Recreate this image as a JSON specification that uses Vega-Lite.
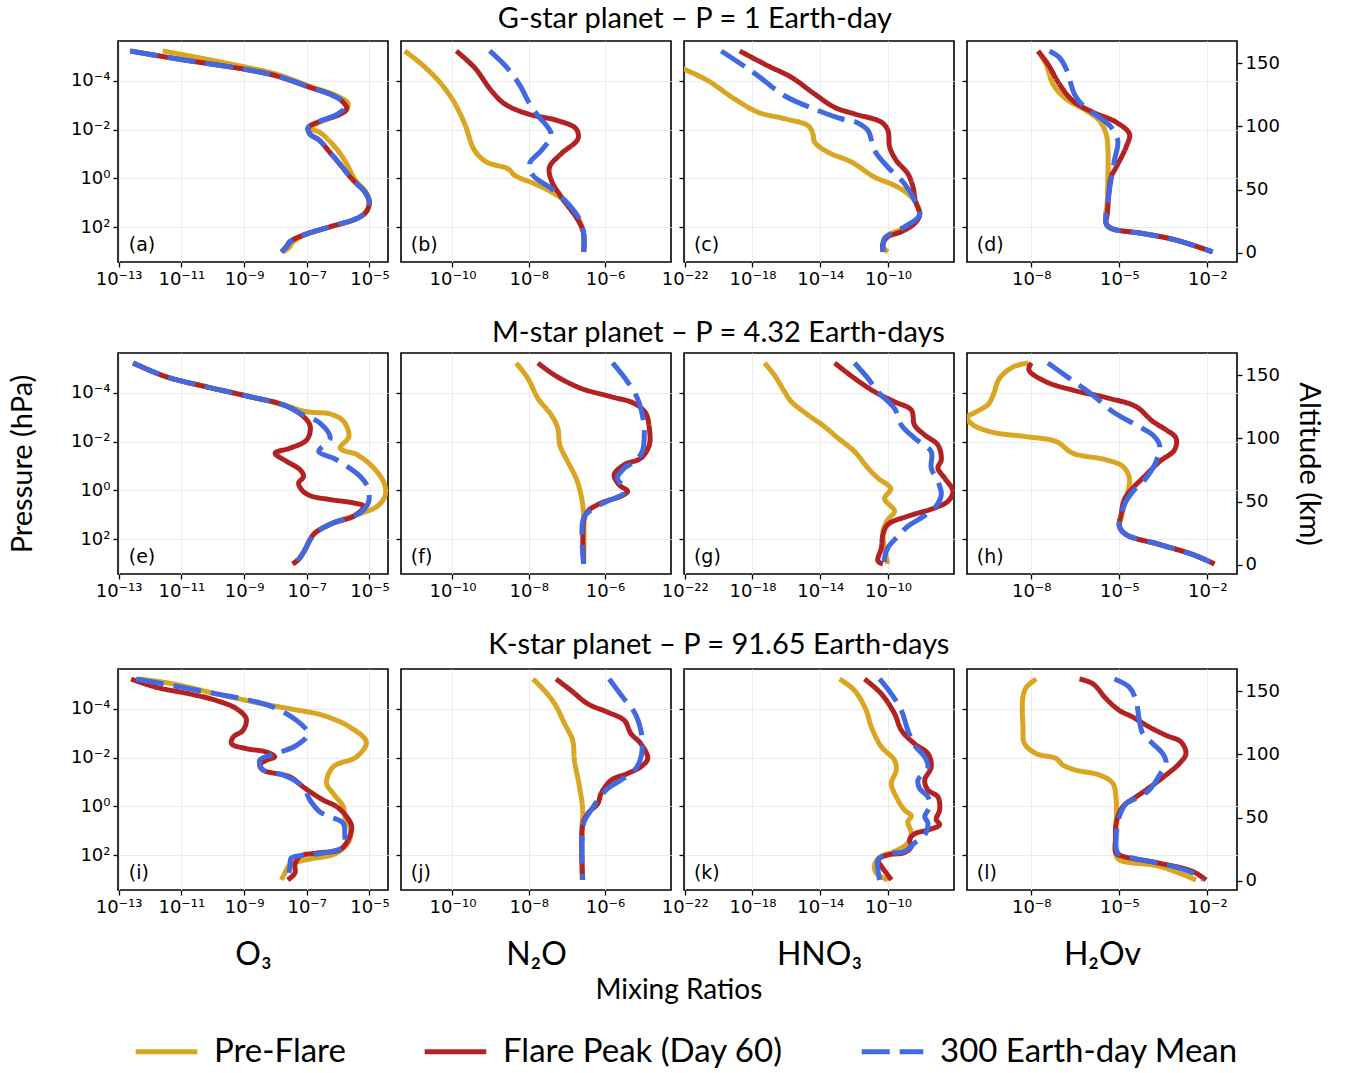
{
"$schema": "https://vega.github.io/schema/vega-lite/v6.json",
"background": "white",
"padding": {"left": 7, "top": 5, "right": 5, "bottom": 3},
"config": {
  "font": "Lato",
  "view": {"stroke": "#000", "strokeWidth": 1.6},
  "axis": {"labelFont": "DejaVu Sans", "labelFontSize": 18, "labelColor": "#000", "tickColor": "#000", "tickSize": 5, "tickWidth": 1.3, "domain": false, "grid": true, "gridColor": "#ebebeb", "gridWidth": 1, "titleFont": "Lato", "titleFontWeight": "normal", "titleColor": "#000", "titleFontSize": 29, "labelPadding": 3, "labelFlush": false, "labelOverlap": false, "labelBound": false},
  "title": {"font": "Lato", "fontSize": 29, "fontWeight": "normal", "color": "#000", "anchor": "middle"},
  "legend": {"orient": "none", "legendX": 15, "legendY": 977, "direction": "horizontal", "symbolType": "stroke", "symbolStrokeWidth": 5, "symbolSize": 3800, "labelFont": "Lato", "labelFontSize": 33, "labelColor": "#000", "labelOffset": 14, "columnPadding": 68, "padding": 0, "labelLimit": 0}
},
"spacing": 30,
"datasets": {
"a": [
{"s":"Pre-Flare","p":6e-6,"v":2.57e-12},{"s":"Pre-Flare","p":1.78e-5,"v":2.14e-10},{"s":"Pre-Flare","p":5.4e-5,"v":1.07e-8},{"s":"Pre-Flare","p":1.78e-4,"v":1.41e-7},{"s":"Pre-Flare","p":4.1e-4,"v":8.9e-7},{"s":"Pre-Flare","p":8.9e-4,"v":2.1e-6},{"s":"Pre-Flare","p":1.95e-3,"v":1.45e-6},{"s":"Pre-Flare","p":5.0e-3,"v":2.57e-7},{"s":"Pre-Flare","p":8.9e-3,"v":1.26e-7},{"s":"Pre-Flare","p":0.0129,"v":2.57e-7},{"s":"Pre-Flare","p":0.0617,"v":8.9e-7},{"s":"Pre-Flare","p":0.251,"v":1.86e-6},{"s":"Pre-Flare","p":1.2,"v":3.55e-6},{"s":"Pre-Flare","p":3.6,"v":7.6e-6},{"s":"Pre-Flare","p":9.3,"v":1.0e-5},{"s":"Pre-Flare","p":23.4,"v":7.9e-6},{"s":"Pre-Flare","p":44.7,"v":3.9e-6},{"s":"Pre-Flare","p":98,"v":5.4e-7},{"s":"Pre-Flare","p":214,"v":8.3e-8},{"s":"Pre-Flare","p":417,"v":3.55e-8},{"s":"Pre-Flare","p":661,"v":2.8e-8},{"s":"Pre-Flare","p":1040,"v":1.78e-8},
{"s":"Flare Peak (Day 60)","p":6e-6,"v":2.34e-13},{"s":"Flare Peak (Day 60)","p":1.32e-5,"v":8.9e-12},{"s":"Flare Peak (Day 60)","p":3.3e-5,"v":9.3e-10},{"s":"Flare Peak (Day 60)","p":6.3e-5,"v":1.07e-8},{"s":"Flare Peak (Day 60)","p":1.86e-4,"v":1.26e-7},{"s":"Flare Peak (Day 60)","p":3.5e-4,"v":5.4e-7},{"s":"Flare Peak (Day 60)","p":6.6e-4,"v":1.29e-6},{"s":"Flare Peak (Day 60)","p":1.41e-3,"v":1.9e-6},{"s":"Flare Peak (Day 60)","p":2.4e-3,"v":1.12e-6},{"s":"Flare Peak (Day 60)","p":4.6e-3,"v":2.57e-7},{"s":"Flare Peak (Day 60)","p":8.5e-3,"v":1.1e-7},{"s":"Flare Peak (Day 60)","p":0.0151,"v":1.26e-7},{"s":"Flare Peak (Day 60)","p":0.0282,"v":2.57e-7},{"s":"Flare Peak (Day 60)","p":0.085,"v":5.4e-7},{"s":"Flare Peak (Day 60)","p":0.214,"v":1.0e-6},{"s":"Flare Peak (Day 60)","p":1.2,"v":3.0e-6},{"s":"Flare Peak (Day 60)","p":3.6,"v":7.1e-6},{"s":"Flare Peak (Day 60)","p":9.3,"v":9.8e-6},{"s":"Flare Peak (Day 60)","p":23.4,"v":7.9e-6},{"s":"Flare Peak (Day 60)","p":44.7,"v":3.9e-6},{"s":"Flare Peak (Day 60)","p":98,"v":5.4e-7},{"s":"Flare Peak (Day 60)","p":214,"v":7.6e-8},{"s":"Flare Peak (Day 60)","p":398,"v":2.9e-8},{"s":"Flare Peak (Day 60)","p":631,"v":2.24e-8},{"s":"Flare Peak (Day 60)","p":1040,"v":1.55e-8},
{"s":"300 Earth-day Mean","p":6e-6,"v":2.34e-13},{"s":"300 Earth-day Mean","p":1.32e-5,"v":8.9e-12},{"s":"300 Earth-day Mean","p":3.3e-5,"v":9.3e-10},{"s":"300 Earth-day Mean","p":6.3e-5,"v":1.07e-8},{"s":"300 Earth-day Mean","p":1.86e-4,"v":1.26e-7},{"s":"300 Earth-day Mean","p":3.5e-4,"v":5.4e-7},{"s":"300 Earth-day Mean","p":6.6e-4,"v":1.29e-6},{"s":"300 Earth-day Mean","p":1.23e-3,"v":1.62e-6},{"s":"300 Earth-day Mean","p":2.45e-3,"v":8.9e-7},{"s":"300 Earth-day Mean","p":4.6e-3,"v":2.57e-7},{"s":"300 Earth-day Mean","p":8.5e-3,"v":1.1e-7},{"s":"300 Earth-day Mean","p":0.0151,"v":1.26e-7},{"s":"300 Earth-day Mean","p":0.0282,"v":2.57e-7},{"s":"300 Earth-day Mean","p":0.085,"v":5.4e-7},{"s":"300 Earth-day Mean","p":0.214,"v":1.0e-6},{"s":"300 Earth-day Mean","p":1.2,"v":3.0e-6},{"s":"300 Earth-day Mean","p":3.6,"v":7.1e-6},{"s":"300 Earth-day Mean","p":9.3,"v":9.8e-6},{"s":"300 Earth-day Mean","p":23.4,"v":7.9e-6},{"s":"300 Earth-day Mean","p":44.7,"v":3.9e-6},{"s":"300 Earth-day Mean","p":98,"v":5.4e-7},{"s":"300 Earth-day Mean","p":214,"v":7.6e-8},{"s":"300 Earth-day Mean","p":398,"v":2.9e-8},{"s":"300 Earth-day Mean","p":631,"v":2.24e-8},{"s":"300 Earth-day Mean","p":1040,"v":1.55e-8}
],
"b": [
{"s":"Pre-Flare","p":6e-6,"v":5.6e-12},{"s":"Pre-Flare","p":2.1e-5,"v":1.55e-11},{"s":"Pre-Flare","p":1e-4,"v":4.3e-11},{"s":"Pre-Flare","p":6.6e-4,"v":1.05e-10},{"s":"Pre-Flare","p":5.9e-3,"v":2.1e-10},{"s":"Pre-Flare","p":0.072,"v":3.8e-10},{"s":"Pre-Flare","p":0.214,"v":7.8e-10},{"s":"Pre-Flare","p":0.41,"v":2.9e-9},{"s":"Pre-Flare","p":0.76,"v":4.3e-9},{"s":"Pre-Flare","p":1.66,"v":1.41e-8},{"s":"Pre-Flare","p":3.6,"v":3.9e-8},{"s":"Pre-Flare","p":10.7,"v":1.05e-7},{"s":"Pre-Flare","p":51,"v":2.1e-7},{"s":"Pre-Flare","p":182,"v":2.75e-7},{"s":"Pre-Flare","p":1040,"v":2.75e-7},
{"s":"Flare Peak (Day 60)","p":6e-6,"v":1.26e-10},{"s":"Flare Peak (Day 60)","p":2.9e-5,"v":3.8e-10},{"s":"Flare Peak (Day 60)","p":2.57e-4,"v":1.05e-9},{"s":"Flare Peak (Day 60)","p":8.9e-4,"v":2.34e-9},{"s":"Flare Peak (Day 60)","p":2.29e-3,"v":9.5e-9},{"s":"Flare Peak (Day 60)","p":4.3e-3,"v":5.8e-8},{"s":"Flare Peak (Day 60)","p":9.3e-3,"v":1.74e-7},{"s":"Flare Peak (Day 60)","p":0.024,"v":1.95e-7},{"s":"Flare Peak (Day 60)","p":0.098,"v":7.1e-8},{"s":"Flare Peak (Day 60)","p":0.35,"v":3.5e-8},{"s":"Flare Peak (Day 60)","p":1.2,"v":3.9e-8},{"s":"Flare Peak (Day 60)","p":5.75,"v":7.1e-8},{"s":"Flare Peak (Day 60)","p":51,"v":1.95e-7},{"s":"Flare Peak (Day 60)","p":182,"v":2.75e-7},{"s":"Flare Peak (Day 60)","p":1040,"v":2.75e-7},
{"s":"300 Earth-day Mean","p":6e-6,"v":9.5e-10},{"s":"300 Earth-day Mean","p":3.3e-5,"v":2.9e-9},{"s":"300 Earth-day Mean","p":1.86e-4,"v":6.3e-9},{"s":"300 Earth-day Mean","p":6.6e-4,"v":9.5e-9},{"s":"300 Earth-day Mean","p":2.7e-3,"v":1.74e-8},{"s":"300 Earth-day Mean","p":7.9e-3,"v":3.16e-8},{"s":"300 Earth-day Mean","p":0.0174,"v":3.9e-8},{"s":"300 Earth-day Mean","p":0.072,"v":2.14e-8},{"s":"300 Earth-day Mean","p":0.251,"v":1.05e-8},{"s":"300 Earth-day Mean","p":0.76,"v":1.29e-8},{"s":"300 Earth-day Mean","p":2.63,"v":3.9e-8},{"s":"300 Earth-day Mean","p":10.7,"v":1.05e-7},{"s":"300 Earth-day Mean","p":44.7,"v":2.1e-7},{"s":"300 Earth-day Mean","p":182,"v":2.75e-7},{"s":"300 Earth-day Mean","p":1040,"v":2.75e-7}
],
"c": [
{"s":"Pre-Flare","p":6e-6,"v":4.6e-25},{"s":"Pre-Flare","p":3.3e-5,"v":9.1e-23},{"s":"Pre-Flare","p":1e-4,"v":2.4e-21},{"s":"Pre-Flare","p":5.6e-4,"v":8.9e-20},{"s":"Pre-Flare","p":1.95e-3,"v":2.14e-18},{"s":"Pre-Flare","p":3.6e-3,"v":7.9e-17},{"s":"Pre-Flare","p":6.9e-3,"v":1.9e-15},{"s":"Pre-Flare","p":0.0151,"v":3.7e-15},{"s":"Pre-Flare","p":0.033,"v":4.7e-15},{"s":"Pre-Flare","p":0.085,"v":2.9e-14},{"s":"Pre-Flare","p":0.214,"v":6.9e-13},{"s":"Pre-Flare","p":0.89,"v":1.62e-11},{"s":"Pre-Flare","p":1.95,"v":2.45e-10},{"s":"Pre-Flare","p":4.3,"v":1.5e-9},{"s":"Pre-Flare","p":10.7,"v":4.7e-9},{"s":"Pre-Flare","p":32,"v":7.4e-9},{"s":"Pre-Flare","p":98,"v":1.5e-9},{"s":"Pre-Flare","p":182,"v":1.58e-10},{"s":"Pre-Flare","p":288,"v":6.3e-11},{"s":"Pre-Flare","p":631,"v":5.1e-11},{"s":"Pre-Flare","p":1040,"v":1e-10},
{"s":"Flare Peak (Day 60)","p":6e-6,"v":1.78e-19},{"s":"Flare Peak (Day 60)","p":2.45e-5,"v":8.3e-18},{"s":"Flare Peak (Day 60)","p":7.2e-5,"v":2.0e-16},{"s":"Flare Peak (Day 60)","p":3.5e-4,"v":4.7e-15},{"s":"Flare Peak (Day 60)","p":1.23e-3,"v":7.1e-14},{"s":"Flare Peak (Day 60)","p":2.29e-3,"v":1.07e-12},{"s":"Flare Peak (Day 60)","p":5.0e-3,"v":4.1e-11},{"s":"Flare Peak (Day 60)","p":0.011,"v":1e-10},{"s":"Flare Peak (Day 60)","p":0.052,"v":1.26e-10},{"s":"Flare Peak (Day 60)","p":0.186,"v":3.1e-10},{"s":"Flare Peak (Day 60)","p":0.65,"v":1.5e-9},{"s":"Flare Peak (Day 60)","p":2.24,"v":3.0e-9},{"s":"Flare Peak (Day 60)","p":7.9,"v":4.1e-9},{"s":"Flare Peak (Day 60)","p":32,"v":7.4e-9},{"s":"Flare Peak (Day 60)","p":71,"v":3.7e-9},{"s":"Flare Peak (Day 60)","p":155,"v":6.2e-10},{"s":"Flare Peak (Day 60)","p":245,"v":1e-10},{"s":"Flare Peak (Day 60)","p":468,"v":5.1e-11},{"s":"Flare Peak (Day 60)","p":1040,"v":5.1e-11},
{"s":"300 Earth-day Mean","p":6e-6,"v":1.45e-20},{"s":"300 Earth-day Mean","p":2.1e-5,"v":2.2e-19},{"s":"300 Earth-day Mean","p":6.3e-5,"v":2.14e-18},{"s":"300 Earth-day Mean","p":4.1e-4,"v":7.9e-17},{"s":"300 Earth-day Mean","p":1.66e-3,"v":7.4e-15},{"s":"300 Earth-day Mean","p":3.6e-3,"v":1.78e-13},{"s":"300 Earth-day Mean","p":5.0e-3,"v":1.35e-12},{"s":"300 Earth-day Mean","p":0.011,"v":6.6e-12},{"s":"300 Earth-day Mean","p":0.072,"v":1.62e-11},{"s":"300 Earth-day Mean","p":0.35,"v":1e-10},{"s":"300 Earth-day Mean","p":1.66,"v":9.5e-10},{"s":"300 Earth-day Mean","p":7.9,"v":3.7e-9},{"s":"300 Earth-day Mean","p":32,"v":7.4e-9},{"s":"300 Earth-day Mean","p":98,"v":9.5e-10},{"s":"300 Earth-day Mean","p":182,"v":1.58e-10},{"s":"300 Earth-day Mean","p":288,"v":6.3e-11},{"s":"300 Earth-day Mean","p":870,"v":5.1e-11},{"s":"300 Earth-day Mean","p":1040,"v":5.1e-11}
],
"d": [
{"s":"Pre-Flare","p":6e-6,"v":1.7e-8},{"s":"Pre-Flare","p":2.1e-5,"v":3.2e-8},{"s":"Pre-Flare","p":1.38e-4,"v":5.5e-8},{"s":"Pre-Flare","p":5.6e-4,"v":1.55e-7},{"s":"Pre-Flare","p":1.66e-3,"v":7.4e-7},{"s":"Pre-Flare","p":4.3e-3,"v":2.1e-6},{"s":"Pre-Flare","p":0.0151,"v":3.55e-6},{"s":"Pre-Flare","p":0.072,"v":4.1e-6},{"s":"Pre-Flare","p":0.65,"v":4.1e-6},{"s":"Pre-Flare","p":7.9,"v":3.9e-6},{"s":"Pre-Flare","p":71,"v":3.55e-6},{"s":"Pre-Flare","p":112,"v":5.2e-6},{"s":"Pre-Flare","p":182,"v":6.3e-5},{"s":"Pre-Flare","p":339,"v":8.5e-4},{"s":"Pre-Flare","p":1040,"v":0.0151},
{"s":"Flare Peak (Day 60)","p":6e-6,"v":1.7e-8},{"s":"Flare Peak (Day 60)","p":2.1e-5,"v":3.7e-8},{"s":"Flare Peak (Day 60)","p":1.38e-4,"v":9.1e-8},{"s":"Flare Peak (Day 60)","p":6.6e-4,"v":2.6e-7},{"s":"Flare Peak (Day 60)","p":1.95e-3,"v":1.26e-6},{"s":"Flare Peak (Day 60)","p":5.0e-3,"v":7.8e-6},{"s":"Flare Peak (Day 60)","p":0.0151,"v":2.2e-5},{"s":"Flare Peak (Day 60)","p":0.052,"v":1.7e-5},{"s":"Flare Peak (Day 60)","p":0.35,"v":7.8e-6},{"s":"Flare Peak (Day 60)","p":0.89,"v":5.2e-6},{"s":"Flare Peak (Day 60)","p":4.3,"v":4.4e-6},{"s":"Flare Peak (Day 60)","p":27.5,"v":3.9e-6},{"s":"Flare Peak (Day 60)","p":71,"v":3.55e-6},{"s":"Flare Peak (Day 60)","p":112,"v":5.2e-6},{"s":"Flare Peak (Day 60)","p":182,"v":6.3e-5},{"s":"Flare Peak (Day 60)","p":339,"v":8.5e-4},{"s":"Flare Peak (Day 60)","p":1040,"v":0.0151},
{"s":"300 Earth-day Mean","p":6e-6,"v":4.2e-8},{"s":"300 Earth-day Mean","p":1.12e-5,"v":9.1e-8},{"s":"300 Earth-day Mean","p":3.3e-5,"v":1.55e-7},{"s":"300 Earth-day Mean","p":3.5e-4,"v":2.95e-7},{"s":"300 Earth-day Mean","p":1.05e-3,"v":5.8e-7},{"s":"300 Earth-day Mean","p":3.16e-3,"v":2.1e-6},{"s":"300 Earth-day Mean","p":7.9e-3,"v":5.2e-6},{"s":"300 Earth-day Mean","p":0.0282,"v":8.9e-6},{"s":"300 Earth-day Mean","p":0.186,"v":6.8e-6},{"s":"300 Earth-day Mean","p":1.2,"v":5.2e-6},{"s":"300 Earth-day Mean","p":7.9,"v":4.1e-6},{"s":"300 Earth-day Mean","p":71,"v":3.55e-6},{"s":"300 Earth-day Mean","p":112,"v":5.2e-6},{"s":"300 Earth-day Mean","p":182,"v":6.3e-5},{"s":"300 Earth-day Mean","p":339,"v":8.5e-4},{"s":"300 Earth-day Mean","p":1040,"v":0.0151}
],
"e": [
{"s":"Pre-Flare","p":6e-6,"v":2.9e-13},{"s":"Pre-Flare","p":2.24e-5,"v":3.4e-12},{"s":"Pre-Flare","p":5.75e-5,"v":6.5e-11},{"s":"Pre-Flare","p":1.45e-4,"v":1.55e-9},{"s":"Pre-Flare","p":3.16e-4,"v":1.82e-8},{"s":"Pre-Flare","p":6.0e-4,"v":1.02e-7},{"s":"Pre-Flare","p":7.4e-4,"v":5.6e-7},{"s":"Pre-Flare","p":1.5e-3,"v":1.5e-6},{"s":"Pre-Flare","p":6.3e-3,"v":2.2e-6},{"s":"Pre-Flare","p":0.0186,"v":1.17e-6},{"s":"Pre-Flare","p":0.035,"v":4.1e-6},{"s":"Pre-Flare","p":0.123,"v":1.38e-5},{"s":"Pre-Flare","p":0.5,"v":2.9e-5},{"s":"Pre-Flare","p":1.5,"v":3.2e-5},{"s":"Pre-Flare","p":4.5,"v":1.78e-5},{"s":"Pre-Flare","p":9.8,"v":4.1e-6},{"s":"Pre-Flare","p":21.4,"v":7.2e-7},{"s":"Pre-Flare","p":55,"v":1.86e-7},{"s":"Pre-Flare","p":102,"v":1.29e-7},{"s":"Pre-Flare","p":263,"v":8.9e-8},{"s":"Pre-Flare","p":676,"v":5.5e-8},{"s":"Pre-Flare","p":1040,"v":3.8e-8},
{"s":"Flare Peak (Day 60)","p":6e-6,"v":2.9e-13},{"s":"Flare Peak (Day 60)","p":2.24e-5,"v":3.4e-12},{"s":"Flare Peak (Day 60)","p":5.75e-5,"v":6.5e-11},{"s":"Flare Peak (Day 60)","p":1.45e-4,"v":1.55e-9},{"s":"Flare Peak (Day 60)","p":3.16e-4,"v":1.82e-8},{"s":"Flare Peak (Day 60)","p":9.5e-4,"v":7.9e-8},{"s":"Flare Peak (Day 60)","p":2.45e-3,"v":1.29e-7},{"s":"Flare Peak (Day 60)","p":8.5e-3,"v":1.0e-7},{"s":"Flare Peak (Day 60)","p":0.0186,"v":2.95e-8},{"s":"Flare Peak (Day 60)","p":0.03,"v":9.8e-9},{"s":"Flare Peak (Day 60)","p":0.066,"v":2.34e-8},{"s":"Flare Peak (Day 60)","p":0.145,"v":6.2e-8},{"s":"Flare Peak (Day 60)","p":0.27,"v":7.9e-8},{"s":"Flare Peak (Day 60)","p":0.5,"v":5.5e-8},{"s":"Flare Peak (Day 60)","p":1.0,"v":7.1e-8},{"s":"Flare Peak (Day 60)","p":1.66,"v":1.29e-7},{"s":"Flare Peak (Day 60)","p":2.4,"v":5.6e-7},{"s":"Flare Peak (Day 60)","p":3.3,"v":3.16e-6},{"s":"Flare Peak (Day 60)","p":4.5,"v":6.6e-6},{"s":"Flare Peak (Day 60)","p":11.5,"v":3.16e-6},{"s":"Flare Peak (Day 60)","p":21.4,"v":7.2e-7},{"s":"Flare Peak (Day 60)","p":55,"v":1.86e-7},{"s":"Flare Peak (Day 60)","p":102,"v":1.29e-7},{"s":"Flare Peak (Day 60)","p":263,"v":8.9e-8},{"s":"Flare Peak (Day 60)","p":676,"v":5.5e-8},{"s":"Flare Peak (Day 60)","p":1040,"v":3.5e-8},
{"s":"300 Earth-day Mean","p":6e-6,"v":2.9e-13},{"s":"300 Earth-day Mean","p":2.24e-5,"v":3.4e-12},{"s":"300 Earth-day Mean","p":5.75e-5,"v":6.5e-11},{"s":"300 Earth-day Mean","p":1.45e-4,"v":1.55e-9},{"s":"300 Earth-day Mean","p":3.16e-4,"v":1.82e-8},{"s":"300 Earth-day Mean","p":8.1e-4,"v":7.9e-8},{"s":"300 Earth-day Mean","p":1.78e-3,"v":2.7e-7},{"s":"300 Earth-day Mean","p":7.2e-3,"v":5.6e-7},{"s":"300 Earth-day Mean","p":0.0257,"v":2.4e-7},{"s":"300 Earth-day Mean","p":0.048,"v":7.2e-7},{"s":"300 Earth-day Mean","p":0.105,"v":1.95e-6},{"s":"300 Earth-day Mean","p":0.27,"v":5.1e-6},{"s":"300 Earth-day Mean","p":0.69,"v":8.5e-6},{"s":"300 Earth-day Mean","p":2.8,"v":9.5e-6},{"s":"300 Earth-day Mean","p":6.2,"v":6.6e-6},{"s":"300 Earth-day Mean","p":11.5,"v":3.16e-6},{"s":"300 Earth-day Mean","p":21.4,"v":7.2e-7},{"s":"300 Earth-day Mean","p":55,"v":1.86e-7},{"s":"300 Earth-day Mean","p":102,"v":1.29e-7},{"s":"300 Earth-day Mean","p":263,"v":8.9e-8},{"s":"300 Earth-day Mean","p":676,"v":5.5e-8},{"s":"300 Earth-day Mean","p":1040,"v":3.8e-8}
],
"f": [
{"s":"Pre-Flare","p":6e-6,"v":4.7e-9},{"s":"Pre-Flare","p":2.57e-5,"v":9.5e-9},{"s":"Pre-Flare","p":1.7e-4,"v":1.74e-8},{"s":"Pre-Flare","p":8.1e-4,"v":3.9e-8},{"s":"Pre-Flare","p":2.9e-3,"v":5.8e-8},{"s":"Pre-Flare","p":0.0138,"v":6.5e-8},{"s":"Pre-Flare","p":0.066,"v":1.05e-7},{"s":"Pre-Flare","p":0.316,"v":1.74e-7},{"s":"Pre-Flare","p":1.5,"v":2.34e-7},{"s":"Pre-Flare","p":9.8,"v":2.75e-7},{"s":"Pre-Flare","p":1040,"v":2.75e-7},
{"s":"Flare Peak (Day 60)","p":6e-6,"v":1.74e-8},{"s":"Flare Peak (Day 60)","p":1.9e-5,"v":4.8e-8},{"s":"Flare Peak (Day 60)","p":6.6e-5,"v":2.34e-7},{"s":"Flare Peak (Day 60)","p":1.45e-4,"v":1.45e-6},{"s":"Flare Peak (Day 60)","p":2.75e-4,"v":5.9e-6},{"s":"Flare Peak (Day 60)","p":6.9e-4,"v":1.17e-5},{"s":"Flare Peak (Day 60)","p":2.9e-3,"v":1.45e-5},{"s":"Flare Peak (Day 60)","p":0.0138,"v":1.45e-5},{"s":"Flare Peak (Day 60)","p":0.048,"v":8.7e-6},{"s":"Flare Peak (Day 60)","p":0.089,"v":3.2e-6},{"s":"Flare Peak (Day 60)","p":0.23,"v":1.74e-6},{"s":"Flare Peak (Day 60)","p":0.59,"v":2.34e-6},{"s":"Flare Peak (Day 60)","p":1.1,"v":3.9e-6},{"s":"Flare Peak (Day 60)","p":1.74,"v":2.6e-6},{"s":"Flare Peak (Day 60)","p":3.3,"v":7.9e-7},{"s":"Flare Peak (Day 60)","p":7.2,"v":3.55e-7},{"s":"Flare Peak (Day 60)","p":18.6,"v":2.75e-7},{"s":"Flare Peak (Day 60)","p":1040,"v":2.75e-7},
{"s":"300 Earth-day Mean","p":6e-6,"v":1.58e-6},{"s":"300 Earth-day Mean","p":3.55e-5,"v":3.9e-6},{"s":"300 Earth-day Mean","p":1.7e-4,"v":7.1e-6},{"s":"300 Earth-day Mean","p":8.1e-4,"v":9.5e-6},{"s":"300 Earth-day Mean","p":3.9e-3,"v":1.07e-5},{"s":"300 Earth-day Mean","p":0.0257,"v":9.5e-6},{"s":"300 Earth-day Mean","p":0.066,"v":5.9e-6},{"s":"300 Earth-day Mean","p":0.123,"v":3.2e-6},{"s":"300 Earth-day Mean","p":0.316,"v":2.1e-6},{"s":"300 Earth-day Mean","p":0.79,"v":3.2e-6},{"s":"300 Earth-day Mean","p":1.29,"v":3.2e-6},{"s":"300 Earth-day Mean","p":2.4,"v":1.45e-6},{"s":"300 Earth-day Mean","p":5.25,"v":5.2e-7},{"s":"300 Earth-day Mean","p":13.5,"v":2.75e-7},{"s":"300 Earth-day Mean","p":1040,"v":2.75e-7}
],
"g": [
{"s":"Pre-Flare","p":6e-6,"v":5.2e-18},{"s":"Pre-Flare","p":1.9e-5,"v":2.0e-17},{"s":"Pre-Flare","p":9.1e-5,"v":7.9e-17},{"s":"Pre-Flare","p":2.34e-4,"v":2.0e-16},{"s":"Pre-Flare","p":8.1e-4,"v":1.9e-15},{"s":"Pre-Flare","p":2.45e-3,"v":1.82e-14},{"s":"Pre-Flare","p":7.2e-3,"v":1.12e-13},{"s":"Pre-Flare","p":0.0257,"v":1.07e-12},{"s":"Pre-Flare","p":0.123,"v":6.6e-12},{"s":"Pre-Flare","p":0.316,"v":2.57e-11},{"s":"Pre-Flare","p":0.85,"v":1.45e-10},{"s":"Pre-Flare","p":2.19,"v":6.3e-11},{"s":"Pre-Flare","p":7.2,"v":2.45e-10},{"s":"Pre-Flare","p":15.8,"v":1e-10},{"s":"Pre-Flare","p":47,"v":5.1e-11},{"s":"Pre-Flare","p":224,"v":6.3e-11},{"s":"Pre-Flare","p":1040,"v":1e-10},
{"s":"Flare Peak (Day 60)","p":6e-6,"v":7.1e-14},{"s":"Flare Peak (Day 60)","p":2.57e-5,"v":1.07e-12},{"s":"Flare Peak (Day 60)","p":9.1e-5,"v":1.62e-11},{"s":"Flare Peak (Day 60)","p":2.34e-4,"v":2.45e-10},{"s":"Flare Peak (Day 60)","p":5.1e-4,"v":2.4e-9},{"s":"Flare Peak (Day 60)","p":2.1e-3,"v":3.7e-9},{"s":"Flare Peak (Day 60)","p":5.4e-3,"v":1.48e-8},{"s":"Flare Peak (Day 60)","p":0.0138,"v":8.9e-8},{"s":"Flare Peak (Day 60)","p":0.056,"v":1.41e-7},{"s":"Flare Peak (Day 60)","p":0.123,"v":8.9e-8},{"s":"Flare Peak (Day 60)","p":0.316,"v":2.24e-7},{"s":"Flare Peak (Day 60)","p":1.1,"v":6.9e-7},{"s":"Flare Peak (Day 60)","p":2.8,"v":3.5e-7},{"s":"Flare Peak (Day 60)","p":5.25,"v":5.8e-8},{"s":"Flare Peak (Day 60)","p":11.5,"v":1.5e-9},{"s":"Flare Peak (Day 60)","p":25,"v":1e-10},{"s":"Flare Peak (Day 60)","p":65,"v":5.1e-11},{"s":"Flare Peak (Day 60)","p":224,"v":4.1e-11},{"s":"Flare Peak (Day 60)","p":794,"v":2.57e-11},{"s":"Flare Peak (Day 60)","p":1040,"v":5.1e-11},
{"s":"300 Earth-day Mean","p":6e-6,"v":1.07e-12},{"s":"300 Earth-day Mean","p":2.57e-5,"v":6.6e-12},{"s":"300 Earth-day Mean","p":9.1e-5,"v":2.57e-11},{"s":"300 Earth-day Mean","p":4.4e-4,"v":2.45e-10},{"s":"300 Earth-day Mean","p":2.1e-3,"v":6.2e-10},{"s":"300 Earth-day Mean","p":7.2e-3,"v":3.7e-9},{"s":"300 Earth-day Mean","p":0.0257,"v":3.6e-8},{"s":"300 Earth-day Mean","p":0.123,"v":3.6e-8},{"s":"300 Earth-day Mean","p":0.43,"v":8.9e-8},{"s":"300 Earth-day Mean","p":1.5,"v":1.41e-7},{"s":"300 Earth-day Mean","p":5.25,"v":5.8e-8},{"s":"300 Earth-day Mean","p":13.5,"v":9.3e-9},{"s":"300 Earth-day Mean","p":29.5,"v":1.5e-9},{"s":"300 Earth-day Mean","p":76,"v":3.9e-10},{"s":"300 Earth-day Mean","p":224,"v":1e-10},{"s":"300 Earth-day Mean","p":575,"v":6.3e-11},{"s":"300 Earth-day Mean","p":1040,"v":6.3e-11}
],
"h": [
{"s":"Pre-Flare","p":6e-6,"v":7.8e-9},{"s":"Pre-Flare","p":8.7e-6,"v":2.4e-9},{"s":"Pre-Flare","p":2.57e-5,"v":8.3e-10},{"s":"Pre-Flare","p":1.26e-4,"v":5.0e-10},{"s":"Pre-Flare","p":3.0e-4,"v":3.4e-10},{"s":"Pre-Flare","p":6.0e-4,"v":1.35e-10},{"s":"Pre-Flare","p":1.05e-3,"v":6.5e-11},{"s":"Pre-Flare","p":2.1e-3,"v":1.05e-10},{"s":"Pre-Flare","p":4.2e-3,"v":5.0e-10},{"s":"Pre-Flare","p":6.3e-3,"v":6.8e-9},{"s":"Pre-Flare","p":0.01,"v":7.1e-8},{"s":"Pre-Flare","p":0.03,"v":2.6e-7},{"s":"Pre-Flare","p":0.056,"v":3.55e-6},{"s":"Pre-Flare","p":0.105,"v":1.32e-5},{"s":"Pre-Flare","p":0.316,"v":2.2e-5},{"s":"Pre-Flare","p":1.1,"v":1.95e-5},{"s":"Pre-Flare","p":3.9,"v":1.48e-5},{"s":"Pre-Flare","p":13.5,"v":1.15e-5},{"s":"Pre-Flare","p":29.5,"v":1e-5},{"s":"Pre-Flare","p":65,"v":1.7e-5},{"s":"Pre-Flare","p":166,"v":2.34e-4},{"s":"Pre-Flare","p":427,"v":3.16e-3},{"s":"Pre-Flare","p":1040,"v":0.0174},
{"s":"Flare Peak (Day 60)","p":6e-6,"v":1e-8},{"s":"Flare Peak (Day 60)","p":1.17e-5,"v":8.3e-9},{"s":"Flare Peak (Day 60)","p":3.55e-5,"v":3.2e-8},{"s":"Flare Peak (Day 60)","p":7.8e-5,"v":2.6e-7},{"s":"Flare Peak (Day 60)","p":1.7e-4,"v":4.6e-6},{"s":"Flare Peak (Day 60)","p":3.7e-4,"v":3.7e-5},{"s":"Flare Peak (Day 60)","p":1.5e-3,"v":1.38e-4},{"s":"Flare Peak (Day 60)","p":3.3e-3,"v":3.9e-4},{"s":"Flare Peak (Day 60)","p":7.2e-3,"v":8.5e-4},{"s":"Flare Peak (Day 60)","p":0.022,"v":7.6e-4},{"s":"Flare Peak (Day 60)","p":0.066,"v":2.34e-4},{"s":"Flare Peak (Day 60)","p":0.316,"v":6.3e-5},{"s":"Flare Peak (Day 60)","p":0.79,"v":2.9e-5},{"s":"Flare Peak (Day 60)","p":2.4,"v":1.48e-5},{"s":"Flare Peak (Day 60)","p":9.8,"v":1.15e-5},{"s":"Flare Peak (Day 60)","p":29.5,"v":1e-5},{"s":"Flare Peak (Day 60)","p":65,"v":1.7e-5},{"s":"Flare Peak (Day 60)","p":166,"v":2.34e-4},{"s":"Flare Peak (Day 60)","p":427,"v":3.16e-3},{"s":"Flare Peak (Day 60)","p":1040,"v":0.0174},
{"s":"300 Earth-day Mean","p":6e-6,"v":3.7e-8},{"s":"300 Earth-day Mean","p":2.57e-5,"v":2.0e-7},{"s":"300 Earth-day Mean","p":1.26e-4,"v":1.26e-6},{"s":"300 Earth-day Mean","p":6.0e-4,"v":6.0e-6},{"s":"300 Earth-day Mean","p":2.1e-3,"v":3.7e-5},{"s":"300 Earth-day Mean","p":5.4e-3,"v":1.38e-4},{"s":"300 Earth-day Mean","p":0.0138,"v":2.34e-4},{"s":"300 Earth-day Mean","p":0.066,"v":1.78e-4},{"s":"300 Earth-day Mean","p":0.316,"v":8.1e-5},{"s":"300 Earth-day Mean","p":1.1,"v":2.9e-5},{"s":"300 Earth-day Mean","p":3.9,"v":1.48e-5},{"s":"300 Earth-day Mean","p":13.5,"v":1.15e-5},{"s":"300 Earth-day Mean","p":29.5,"v":1e-5},{"s":"300 Earth-day Mean","p":65,"v":1.7e-5},{"s":"300 Earth-day Mean","p":166,"v":2.34e-4},{"s":"300 Earth-day Mean","p":427,"v":3.16e-3},{"s":"300 Earth-day Mean","p":1040,"v":0.0174}
],
"i": [
{"s":"Pre-Flare","p":6e-6,"v":4.7e-13},{"s":"Pre-Flare","p":9.5e-6,"v":5.4e-12},{"s":"Pre-Flare","p":2.45e-5,"v":1.32e-10},{"s":"Pre-Flare","p":6.3e-5,"v":4.1e-9},{"s":"Pre-Flare","p":1e-4,"v":2.9e-8},{"s":"Pre-Flare","p":1.86e-4,"v":3.3e-7},{"s":"Pre-Flare","p":5.6e-4,"v":2.34e-6},{"s":"Pre-Flare","p":2.29e-3,"v":7.9e-6},{"s":"Pre-Flare","p":9.3e-3,"v":3.9e-6},{"s":"Pre-Flare","p":0.024,"v":6.9e-7},{"s":"Pre-Flare","p":0.115,"v":4.3e-7},{"s":"Pre-Flare","p":0.295,"v":6.9e-7},{"s":"Pre-Flare","p":1.02,"v":1.45e-6},{"s":"Pre-Flare","p":2.63,"v":1.62e-6},{"s":"Pre-Flare","p":6.8,"v":2.34e-6},{"s":"Pre-Flare","p":23.4,"v":2.34e-6},{"s":"Pre-Flare","p":83,"v":8.9e-7},{"s":"Pre-Flare","p":155,"v":9.8e-8},{"s":"Pre-Flare","p":245,"v":2.9e-8},{"s":"Pre-Flare","p":537,"v":2.0e-8},{"s":"Pre-Flare","p":1040,"v":1.55e-8},
{"s":"Flare Peak (Day 60)","p":6e-6,"v":2.5e-13},{"s":"Flare Peak (Day 60)","p":1.32e-5,"v":1.58e-12},{"s":"Flare Peak (Day 60)","p":2.45e-5,"v":1.86e-11},{"s":"Flare Peak (Day 60)","p":4.6e-5,"v":1.32e-10},{"s":"Flare Peak (Day 60)","p":1e-4,"v":5.8e-10},{"s":"Flare Peak (Day 60)","p":2.57e-4,"v":1.17e-9},{"s":"Flare Peak (Day 60)","p":7.6e-4,"v":9.3e-10},{"s":"Flare Peak (Day 60)","p":1.45e-3,"v":4.5e-10},{"s":"Flare Peak (Day 60)","p":2.7e-3,"v":4.0e-10},{"s":"Flare Peak (Day 60)","p":4.3e-3,"v":1.17e-9},{"s":"Flare Peak (Day 60)","p":5.9e-3,"v":5.1e-9},{"s":"Flare Peak (Day 60)","p":9.3e-3,"v":9.5e-9},{"s":"Flare Peak (Day 60)","p":0.0129,"v":5.1e-9},{"s":"Flare Peak (Day 60)","p":0.0204,"v":3.16e-9},{"s":"Flare Peak (Day 60)","p":0.033,"v":4.1e-9},{"s":"Flare Peak (Day 60)","p":0.0617,"v":2.9e-8},{"s":"Flare Peak (Day 60)","p":0.158,"v":7.6e-8},{"s":"Flare Peak (Day 60)","p":0.55,"v":3.3e-7},{"s":"Flare Peak (Day 60)","p":1.02,"v":8.9e-7},{"s":"Flare Peak (Day 60)","p":2.63,"v":1.86e-6},{"s":"Flare Peak (Day 60)","p":6.8,"v":2.7e-6},{"s":"Flare Peak (Day 60)","p":23.4,"v":2.1e-6},{"s":"Flare Peak (Day 60)","p":60,"v":1.12e-6},{"s":"Flare Peak (Day 60)","p":83,"v":2.0e-7},{"s":"Flare Peak (Day 60)","p":112,"v":6.0e-8},{"s":"Flare Peak (Day 60)","p":245,"v":4.2e-8},{"s":"Flare Peak (Day 60)","p":537,"v":4.2e-8},{"s":"Flare Peak (Day 60)","p":1040,"v":2.5e-8},
{"s":"300 Earth-day Mean","p":6e-6,"v":3.6e-13},{"s":"300 Earth-day Mean","p":1.12e-5,"v":5.4e-12},{"s":"300 Earth-day Mean","p":2.45e-5,"v":1.32e-10},{"s":"300 Earth-day Mean","p":3.9e-5,"v":9.3e-10},{"s":"300 Earth-day Mean","p":8.5e-5,"v":8.5e-9},{"s":"300 Earth-day Mean","p":3.0e-4,"v":4.7e-8},{"s":"300 Earth-day Mean","p":1.05e-3,"v":1.1e-7},{"s":"300 Earth-day Mean","p":3.16e-3,"v":4.7e-8},{"s":"300 Earth-day Mean","p":6.9e-3,"v":1.07e-8},{"s":"300 Earth-day Mean","p":0.0129,"v":3.16e-9},{"s":"300 Earth-day Mean","p":0.033,"v":4.1e-9},{"s":"300 Earth-day Mean","p":0.052,"v":1.74e-8},{"s":"300 Earth-day Mean","p":0.158,"v":7.6e-8},{"s":"300 Earth-day Mean","p":0.55,"v":1.26e-7},{"s":"300 Earth-day Mean","p":1.66,"v":2.57e-7},{"s":"300 Earth-day Mean","p":2.63,"v":5.4e-7},{"s":"300 Earth-day Mean","p":4.9,"v":1.45e-6},{"s":"300 Earth-day Mean","p":12.6,"v":1.62e-6},{"s":"300 Earth-day Mean","p":44.7,"v":1.45e-6},{"s":"300 Earth-day Mean","p":83,"v":3.3e-7},{"s":"300 Earth-day Mean","p":98,"v":9.8e-8},{"s":"300 Earth-day Mean","p":132,"v":3.2e-8},{"s":"300 Earth-day Mean","p":288,"v":2.9e-8},{"s":"300 Earth-day Mean","p":1040,"v":2.5e-8}
],
"j": [
{"s":"Pre-Flare","p":6e-6,"v":1.29e-8},{"s":"Pre-Flare","p":1.78e-5,"v":2.57e-8},{"s":"Pre-Flare","p":6.3e-5,"v":4.8e-8},{"s":"Pre-Flare","p":4.1e-4,"v":8.7e-8},{"s":"Pre-Flare","p":1.95e-3,"v":1.41e-7},{"s":"Pre-Flare","p":0.0129,"v":1.58e-7},{"s":"Pre-Flare","p":0.158,"v":2.14e-7},{"s":"Pre-Flare","p":1.41,"v":2.6e-7},{"s":"Pre-Flare","p":6.8,"v":2.5e-7},{"s":"Pre-Flare","p":1040,"v":2.5e-7},
{"s":"Flare Peak (Day 60)","p":6e-6,"v":5.2e-8},{"s":"Flare Peak (Day 60)","p":1.78e-5,"v":1.29e-7},{"s":"Flare Peak (Day 60)","p":6.3e-5,"v":3.55e-7},{"s":"Flare Peak (Day 60)","p":1.38e-4,"v":1.17e-6},{"s":"Flare Peak (Day 60)","p":3.0e-4,"v":3.2e-6},{"s":"Flare Peak (Day 60)","p":1.05e-3,"v":4.8e-6},{"s":"Flare Peak (Day 60)","p":2.7e-3,"v":8.7e-6},{"s":"Flare Peak (Day 60)","p":0.011,"v":1.32e-5},{"s":"Flare Peak (Day 60)","p":0.024,"v":8.7e-6},{"s":"Flare Peak (Day 60)","p":0.045,"v":3.9e-6},{"s":"Flare Peak (Day 60)","p":0.085,"v":1.45e-6},{"s":"Flare Peak (Day 60)","p":0.295,"v":7.9e-7},{"s":"Flare Peak (Day 60)","p":0.76,"v":6.5e-7},{"s":"Flare Peak (Day 60)","p":1.95,"v":3.55e-7},{"s":"Flare Peak (Day 60)","p":5.75,"v":2.6e-7},{"s":"Flare Peak (Day 60)","p":1040,"v":2.6e-7},
{"s":"300 Earth-day Mean","p":6e-6,"v":1.29e-6},{"s":"300 Earth-day Mean","p":3.3e-5,"v":2.9e-6},{"s":"300 Earth-day Mean","p":1.38e-4,"v":5.9e-6},{"s":"300 Earth-day Mean","p":7.6e-4,"v":8.7e-6},{"s":"300 Earth-day Mean","p":3.6e-3,"v":9.5e-6},{"s":"300 Earth-day Mean","p":0.0129,"v":8.3e-6},{"s":"300 Earth-day Mean","p":0.033,"v":5.9e-6},{"s":"300 Earth-day Mean","p":0.085,"v":2.6e-6},{"s":"300 Earth-day Mean","p":0.186,"v":1.17e-6},{"s":"300 Earth-day Mean","p":0.55,"v":6.5e-7},{"s":"300 Earth-day Mean","p":1.41,"v":4.3e-7},{"s":"300 Earth-day Mean","p":4.9,"v":2.75e-7},{"s":"300 Earth-day Mean","p":1040,"v":2.6e-7}
],
"k": [
{"s":"Pre-Flare","p":6e-6,"v":1.41e-13},{"s":"Pre-Flare","p":1.78e-5,"v":1.07e-12},{"s":"Pre-Flare","p":1.17e-4,"v":5.2e-12},{"s":"Pre-Flare","p":5.6e-4,"v":1.05e-11},{"s":"Pre-Flare","p":3.6e-3,"v":4.1e-11},{"s":"Pre-Flare","p":0.0129,"v":2.45e-10},{"s":"Pre-Flare","p":0.033,"v":3.1e-10},{"s":"Pre-Flare","p":0.115,"v":1.58e-10},{"s":"Pre-Flare","p":0.41,"v":3.1e-10},{"s":"Pre-Flare","p":1.41,"v":9.5e-10},{"s":"Pre-Flare","p":2.45,"v":2.4e-9},{"s":"Pre-Flare","p":4.3,"v":1.5e-9},{"s":"Pre-Flare","p":12.6,"v":2.4e-9},{"s":"Pre-Flare","p":32,"v":1.5e-9},{"s":"Pre-Flare","p":71,"v":2.45e-10},{"s":"Pre-Flare","p":112,"v":4.1e-11},{"s":"Pre-Flare","p":245,"v":1.62e-11},{"s":"Pre-Flare","p":537,"v":2.0e-11},{"s":"Pre-Flare","p":1040,"v":1e-10},
{"s":"Flare Peak (Day 60)","p":6e-6,"v":4.2e-12},{"s":"Flare Peak (Day 60)","p":2.45e-5,"v":4.1e-11},{"s":"Flare Peak (Day 60)","p":1.58e-4,"v":2.45e-10},{"s":"Flare Peak (Day 60)","p":7.6e-4,"v":6.2e-10},{"s":"Flare Peak (Day 60)","p":2.7e-3,"v":3.7e-9},{"s":"Flare Peak (Day 60)","p":6.9e-3,"v":2.3e-8},{"s":"Flare Peak (Day 60)","p":0.024,"v":3.6e-8},{"s":"Flare Peak (Day 60)","p":0.085,"v":1.48e-8},{"s":"Flare Peak (Day 60)","p":0.214,"v":2.3e-8},{"s":"Flare Peak (Day 60)","p":0.41,"v":8.9e-8},{"s":"Flare Peak (Day 60)","p":1.41,"v":1.12e-7},{"s":"Flare Peak (Day 60)","p":3.4,"v":7.1e-8},{"s":"Flare Peak (Day 60)","p":5.75,"v":1.12e-7},{"s":"Flare Peak (Day 60)","p":9.3,"v":2.3e-8},{"s":"Flare Peak (Day 60)","p":13.5,"v":3.7e-9},{"s":"Flare Peak (Day 60)","p":23.4,"v":1.9e-9},{"s":"Flare Peak (Day 60)","p":44.7,"v":2.4e-9},{"s":"Flare Peak (Day 60)","p":78,"v":9.5e-10},{"s":"Flare Peak (Day 60)","p":98,"v":1e-10},{"s":"Flare Peak (Day 60)","p":155,"v":2.57e-11},{"s":"Flare Peak (Day 60)","p":288,"v":4.1e-11},{"s":"Flare Peak (Day 60)","p":537,"v":7.9e-11},{"s":"Flare Peak (Day 60)","p":1040,"v":1.58e-10},
{"s":"300 Earth-day Mean","p":6e-6,"v":3.2e-11},{"s":"300 Earth-day Mean","p":2.45e-5,"v":1.58e-10},{"s":"300 Earth-day Mean","p":1.17e-4,"v":6.2e-10},{"s":"300 Earth-day Mean","p":7.6e-4,"v":1.5e-9},{"s":"300 Earth-day Mean","p":3.16e-3,"v":3.7e-9},{"s":"300 Earth-day Mean","p":9.3e-3,"v":1.48e-8},{"s":"300 Earth-day Mean","p":0.024,"v":2.3e-8},{"s":"300 Earth-day Mean","p":0.085,"v":5.9e-9},{"s":"300 Earth-day Mean","p":0.186,"v":7.4e-9},{"s":"300 Earth-day Mean","p":0.41,"v":2.3e-8},{"s":"300 Earth-day Mean","p":1.02,"v":2.9e-8},{"s":"300 Earth-day Mean","p":2.63,"v":1.48e-8},{"s":"300 Earth-day Mean","p":4.9,"v":2.3e-8},{"s":"300 Earth-day Mean","p":14.8,"v":1.48e-8},{"s":"300 Earth-day Mean","p":32,"v":3.7e-9},{"s":"300 Earth-day Mean","p":71,"v":9.5e-10},{"s":"300 Earth-day Mean","p":89,"v":1e-10},{"s":"300 Earth-day Mean","p":155,"v":2.57e-11},{"s":"300 Earth-day Mean","p":398,"v":2.57e-11},{"s":"300 Earth-day Mean","p":1040,"v":3.2e-11}
],
"l": [
{"s":"Pre-Flare","p":6e-6,"v":1.48e-8},{"s":"Pre-Flare","p":1.32e-5,"v":6.8e-9},{"s":"Pre-Flare","p":3.3e-5,"v":5.2e-9},{"s":"Pre-Flare","p":5.6e-4,"v":5.2e-9},{"s":"Pre-Flare","p":2.7e-3,"v":5.9e-9},{"s":"Pre-Flare","p":6.9e-3,"v":1.48e-8},{"s":"Pre-Flare","p":0.011,"v":7.1e-8},{"s":"Pre-Flare","p":0.0204,"v":1.2e-7},{"s":"Pre-Flare","p":0.033,"v":3.4e-7},{"s":"Pre-Flare","p":0.052,"v":2.1e-6},{"s":"Pre-Flare","p":0.115,"v":6.0e-6},{"s":"Pre-Flare","p":0.55,"v":7.8e-6},{"s":"Pre-Flare","p":6.8,"v":7.8e-6},{"s":"Pre-Flare","p":83,"v":7.4e-6},{"s":"Pre-Flare","p":155,"v":1e-5},{"s":"Pre-Flare","p":288,"v":2.34e-4},{"s":"Pre-Flare","p":1040,"v":4.1e-3},
{"s":"Flare Peak (Day 60)","p":6e-6,"v":4.4e-7},{"s":"Flare Peak (Day 60)","p":9.5e-6,"v":1.26e-6},{"s":"Flare Peak (Day 60)","p":3.9e-5,"v":3.55e-6},{"s":"Flare Peak (Day 60)","p":1.17e-4,"v":1e-5},{"s":"Flare Peak (Day 60)","p":2.2e-4,"v":2.9e-5},{"s":"Flare Peak (Day 60)","p":5.6e-4,"v":1.05e-4},{"s":"Flare Peak (Day 60)","p":1.23e-3,"v":3.9e-4},{"s":"Flare Peak (Day 60)","p":2.29e-3,"v":1.26e-3},{"s":"Flare Peak (Day 60)","p":6.9e-3,"v":1.86e-3},{"s":"Flare Peak (Day 60)","p":0.0174,"v":1.12e-3},{"s":"Flare Peak (Day 60)","p":0.052,"v":3.9e-4},{"s":"Flare Peak (Day 60)","p":0.214,"v":8.1e-5},{"s":"Flare Peak (Day 60)","p":0.41,"v":3.7e-5},{"s":"Flare Peak (Day 60)","p":1.02,"v":1.32e-5},{"s":"Flare Peak (Day 60)","p":4.9,"v":7.8e-6},{"s":"Flare Peak (Day 60)","p":23.4,"v":7.4e-6},{"s":"Flare Peak (Day 60)","p":83,"v":7.8e-6},{"s":"Flare Peak (Day 60)","p":112,"v":1.32e-5},{"s":"Flare Peak (Day 60)","p":214,"v":2.34e-4},{"s":"Flare Peak (Day 60)","p":468,"v":3.16e-3},{"s":"Flare Peak (Day 60)","p":1040,"v":8.9e-3},
{"s":"300 Earth-day Mean","p":6e-6,"v":6.8e-6},{"s":"300 Earth-day Mean","p":1.32e-5,"v":2.2e-5},{"s":"300 Earth-day Mean","p":4.6e-5,"v":3.7e-5},{"s":"300 Earth-day Mean","p":3.0e-4,"v":4.8e-5},{"s":"300 Earth-day Mean","p":1.05e-3,"v":6.3e-5},{"s":"300 Earth-day Mean","p":2.7e-3,"v":1.38e-4},{"s":"300 Earth-day Mean","p":6.9e-3,"v":3.0e-4},{"s":"300 Earth-day Mean","p":0.0151,"v":3.9e-4},{"s":"300 Earth-day Mean","p":0.052,"v":2.34e-4},{"s":"300 Earth-day Mean","p":0.214,"v":1.05e-4},{"s":"300 Earth-day Mean","p":0.41,"v":4.8e-5},{"s":"300 Earth-day Mean","p":0.79,"v":1.7e-5},{"s":"300 Earth-day Mean","p":2.63,"v":1e-5},{"s":"300 Earth-day Mean","p":17.4,"v":7.8e-6},{"s":"300 Earth-day Mean","p":83,"v":8.9e-6},{"s":"300 Earth-day Mean","p":132,"v":2.9e-5},{"s":"300 Earth-day Mean","p":245,"v":3.9e-4},{"s":"300 Earth-day Mean","p":537,"v":3.16e-3},{"s":"300 Earth-day Mean","p":1040,"v":6.9e-3}
]
},
"vconcat": [
{
"title": {"text": "G-star planet – P = 1 Earth-day", "offset": 6, "dx": 51},
"bounds": "flush", "spacing": 13,
"hconcat": [
{"width": 270, "height": 221, "layer": [
 {"data": {"name": "a"}, "mark": {"type": "line", "strokeWidth": 5, "clip": true, "strokeCap": "butt", "strokeJoin": "round", "interpolate": "catmull-rom"},
  "encoding": {
   "x": {"field": "v", "type": "quantitative", "scale": {"type": "log", "domain": [9.55e-14, 3.89e-5], "nice": false}, "axis": {"values": [1e-13, 1e-11, 1e-9, 1e-7, 1e-5], "title": null, "labelExpr": "'10' + replace(replace(replace(replace(replace(replace(replace(replace(replace(replace(replace('' + round(log(datum.value) / LN10), /-/g, '⁻'), /0/g, '⁰'), /1/g, '¹'), /2/g, '²'), /3/g, '³'), /4/g, '⁴'), /5/g, '⁵'), /6/g, '⁶'), /7/g, '⁷'), /8/g, '⁸'), /9/g, '⁹')"}},
   "y": {"field": "p", "type": "quantitative", "scale": {"type": "log", "domain": [2.34e-6, 2692], "nice": false, "reverse": true}, "axis": {"orient": "left", "values": [1e-4, 1e-2, 1, 100], "title": "Pressure (hPa)", "titleOpacity": 0, "titlePadding": 33, "labelExpr": "'10' + replace(replace(replace(replace(replace(replace(replace(replace(replace(replace(replace('' + round(log(datum.value) / LN10), /-/g, '⁻'), /0/g, '⁰'), /1/g, '¹'), /2/g, '²'), /3/g, '³'), /4/g, '⁴'), /5/g, '⁵'), /6/g, '⁶'), /7/g, '⁷'), /8/g, '⁸'), /9/g, '⁹')"}},
   "color": {"field": "s", "type": "nominal", "title": null, "scale": {"domain": ["Pre-Flare", "Flare Peak (Day 60)", "300 Earth-day Mean"], "range": ["#DAA520", "#B22222", "#4169E1"]}},
   "strokeDash": {"field": "s", "type": "nominal", "title": null, "scale": {"domain": ["Pre-Flare", "Flare Peak (Day 60)", "300 Earth-day Mean"], "range": [[1, 0], [1, 0], [28, 10]]}},
   "order": {"field": "p", "type": "quantitative"}}},
 {"data": {"values": [{"t": "(a)"}]}, "mark": {"type": "text", "align": "left", "baseline": "middle", "font": "DejaVu Sans", "fontSize": 19}, "encoding": {"x": {"datum": 2.1e-13}, "y": {"datum": 562}, "text": {"field": "t"}}}
]},
{"width": 270, "height": 221, "layer": [
 {"data": {"name": "b"}, "mark": {"type": "line", "strokeWidth": 5, "clip": true, "strokeCap": "butt", "strokeJoin": "round", "interpolate": "catmull-rom"},
  "encoding": {
   "x": {"field": "v", "type": "quantitative", "scale": {"type": "log", "domain": [4.47e-12, 5.37e-5], "nice": false}, "axis": {"values": [1e-10, 1e-8, 1e-6], "title": null, "labelExpr": "'10' + replace(replace(replace(replace(replace(replace(replace(replace(replace(replace(replace('' + round(log(datum.value) / LN10), /-/g, '⁻'), /0/g, '⁰'), /1/g, '¹'), /2/g, '²'), /3/g, '³'), /4/g, '⁴'), /5/g, '⁵'), /6/g, '⁶'), /7/g, '⁷'), /8/g, '⁸'), /9/g, '⁹')"}},
   "y": {"field": "p", "type": "quantitative", "scale": {"type": "log", "domain": [2.34e-6, 2692], "nice": false, "reverse": true}, "axis": {"orient": "left", "values": [1e-4, 1e-2, 1, 100], "title": null, "labels": false}},
   "color": {"field": "s", "type": "nominal", "title": null, "scale": {"domain": ["Pre-Flare", "Flare Peak (Day 60)", "300 Earth-day Mean"], "range": ["#DAA520", "#B22222", "#4169E1"]}},
   "strokeDash": {"field": "s", "type": "nominal", "title": null, "scale": {"domain": ["Pre-Flare", "Flare Peak (Day 60)", "300 Earth-day Mean"], "range": [[1, 0], [1, 0], [28, 10]]}},
   "order": {"field": "p", "type": "quantitative"}}},
 {"data": {"values": [{"t": "(b)"}]}, "mark": {"type": "text", "align": "left", "baseline": "middle", "font": "DejaVu Sans", "fontSize": 19}, "encoding": {"x": {"datum": 8.1e-12}, "y": {"datum": 562}, "text": {"field": "t"}}}
]},
{"width": 270, "height": 221, "layer": [
 {"data": {"name": "c"}, "mark": {"type": "line", "strokeWidth": 5, "clip": true, "strokeCap": "butt", "strokeJoin": "round", "interpolate": "catmull-rom"},
  "encoding": {
   "x": {"field": "v", "type": "quantitative", "scale": {"type": "log", "domain": [9.1e-23, 7.94e-7], "nice": false}, "axis": {"values": [1e-22, 1e-18, 1e-14, 1e-10], "title": null, "labelExpr": "'10' + replace(replace(replace(replace(replace(replace(replace(replace(replace(replace(replace('' + round(log(datum.value) / LN10), /-/g, '⁻'), /0/g, '⁰'), /1/g, '¹'), /2/g, '²'), /3/g, '³'), /4/g, '⁴'), /5/g, '⁵'), /6/g, '⁶'), /7/g, '⁷'), /8/g, '⁸'), /9/g, '⁹')"}},
   "y": {"field": "p", "type": "quantitative", "scale": {"type": "log", "domain": [2.34e-6, 2692], "nice": false, "reverse": true}, "axis": {"orient": "left", "values": [1e-4, 1e-2, 1, 100], "title": null, "labels": false}},
   "color": {"field": "s", "type": "nominal", "title": null, "scale": {"domain": ["Pre-Flare", "Flare Peak (Day 60)", "300 Earth-day Mean"], "range": ["#DAA520", "#B22222", "#4169E1"]}},
   "strokeDash": {"field": "s", "type": "nominal", "title": null, "scale": {"domain": ["Pre-Flare", "Flare Peak (Day 60)", "300 Earth-day Mean"], "range": [[1, 0], [1, 0], [28, 10]]}},
   "order": {"field": "p", "type": "quantitative"}}},
 {"data": {"values": [{"t": "(c)"}]}, "mark": {"type": "text", "align": "left", "baseline": "middle", "font": "DejaVu Sans", "fontSize": 19}, "encoding": {"x": {"datum": 3.5e-22}, "y": {"datum": 562}, "text": {"field": "t"}}}
]},
{"width": 270, "height": 221, "resolve": {"scale": {"y": "independent"}}, "layer": [
 {"layer": [
  {"data": {"name": "d"}, "mark": {"type": "line", "strokeWidth": 5, "clip": true, "strokeCap": "butt", "strokeJoin": "round", "interpolate": "catmull-rom"},
   "encoding": {
    "x": {"field": "v", "type": "quantitative", "scale": {"type": "log", "domain": [6.46e-11, 0.102], "nice": false}, "axis": {"values": [1e-8, 1e-5, 1e-2], "title": null, "labelExpr": "'10' + replace(replace(replace(replace(replace(replace(replace(replace(replace(replace(replace('' + round(log(datum.value) / LN10), /-/g, '⁻'), /0/g, '⁰'), /1/g, '¹'), /2/g, '²'), /3/g, '³'), /4/g, '⁴'), /5/g, '⁵'), /6/g, '⁶'), /7/g, '⁷'), /8/g, '⁸'), /9/g, '⁹')"}},
    "y": {"field": "p", "type": "quantitative", "scale": {"type": "log", "domain": [2.34e-6, 2692], "nice": false, "reverse": true}, "axis": {"orient": "left", "values": [1e-4, 1e-2, 1, 100], "title": null, "labels": false}},
    "color": {"field": "s", "type": "nominal", "title": null, "scale": {"domain": ["Pre-Flare", "Flare Peak (Day 60)", "300 Earth-day Mean"], "range": ["#DAA520", "#B22222", "#4169E1"]}},
    "strokeDash": {"field": "s", "type": "nominal", "title": null, "scale": {"domain": ["Pre-Flare", "Flare Peak (Day 60)", "300 Earth-day Mean"], "range": [[1, 0], [1, 0], [28, 10]]}},
    "order": {"field": "p", "type": "quantitative"}}},
  {"data": {"values": [{"t": "(d)"}]}, "mark": {"type": "text", "align": "left", "baseline": "middle", "font": "DejaVu Sans", "fontSize": 19}, "encoding": {"x": {"datum": 1.4e-10}, "y": {"datum": 562}, "text": {"field": "t"}}}
 ]},
 {"data": {"values": [{"alt": 0}, {"alt": 150}]}, "mark": {"type": "point", "opacity": 0}, "encoding": {"y": {"field": "alt", "type": "quantitative", "scale": {"domain": [-7.3, 167.6], "nice": false, "zero": false}, "axis": {"orient": "right", "values": [0, 50, 100, 150], "title": null}}}}
]}
]
},
{
"title": {"text": "M-star planet – P = 4.32 Earth-days", "offset": 4, "dx": 53},
"bounds": "flush", "spacing": 13,
"hconcat": [
{"width": 270, "height": 221, "layer": [
 {"data": {"name": "e"}, "mark": {"type": "line", "strokeWidth": 5, "clip": true, "strokeCap": "butt", "strokeJoin": "round", "interpolate": "catmull-rom"},
  "encoding": {
   "x": {"field": "v", "type": "quantitative", "scale": {"type": "log", "domain": [9.55e-14, 3.89e-5], "nice": false}, "axis": {"values": [1e-13, 1e-11, 1e-9, 1e-7, 1e-5], "title": null, "labelExpr": "'10' + replace(replace(replace(replace(replace(replace(replace(replace(replace(replace(replace('' + round(log(datum.value) / LN10), /-/g, '⁻'), /0/g, '⁰'), /1/g, '¹'), /2/g, '²'), /3/g, '³'), /4/g, '⁴'), /5/g, '⁵'), /6/g, '⁶'), /7/g, '⁷'), /8/g, '⁸'), /9/g, '⁹')"}},
   "y": {"field": "p", "type": "quantitative", "scale": {"type": "log", "domain": [2.34e-6, 2692], "nice": false, "reverse": true}, "axis": {"orient": "left", "values": [1e-4, 1e-2, 1, 100], "title": "Pressure (hPa)", "titlePadding": 33, "labelExpr": "'10' + replace(replace(replace(replace(replace(replace(replace(replace(replace(replace(replace('' + round(log(datum.value) / LN10), /-/g, '⁻'), /0/g, '⁰'), /1/g, '¹'), /2/g, '²'), /3/g, '³'), /4/g, '⁴'), /5/g, '⁵'), /6/g, '⁶'), /7/g, '⁷'), /8/g, '⁸'), /9/g, '⁹')"}},
   "color": {"field": "s", "type": "nominal", "title": null, "scale": {"domain": ["Pre-Flare", "Flare Peak (Day 60)", "300 Earth-day Mean"], "range": ["#DAA520", "#B22222", "#4169E1"]}},
   "strokeDash": {"field": "s", "type": "nominal", "title": null, "scale": {"domain": ["Pre-Flare", "Flare Peak (Day 60)", "300 Earth-day Mean"], "range": [[1, 0], [1, 0], [28, 10]]}},
   "order": {"field": "p", "type": "quantitative"}}},
 {"data": {"values": [{"t": "(e)"}]}, "mark": {"type": "text", "align": "left", "baseline": "middle", "font": "DejaVu Sans", "fontSize": 19}, "encoding": {"x": {"datum": 2.1e-13}, "y": {"datum": 562}, "text": {"field": "t"}}}
]},
{"width": 270, "height": 221, "layer": [
 {"data": {"name": "f"}, "mark": {"type": "line", "strokeWidth": 5, "clip": true, "strokeCap": "butt", "strokeJoin": "round", "interpolate": "catmull-rom"},
  "encoding": {
   "x": {"field": "v", "type": "quantitative", "scale": {"type": "log", "domain": [4.47e-12, 5.37e-5], "nice": false}, "axis": {"values": [1e-10, 1e-8, 1e-6], "title": null, "labelExpr": "'10' + replace(replace(replace(replace(replace(replace(replace(replace(replace(replace(replace('' + round(log(datum.value) / LN10), /-/g, '⁻'), /0/g, '⁰'), /1/g, '¹'), /2/g, '²'), /3/g, '³'), /4/g, '⁴'), /5/g, '⁵'), /6/g, '⁶'), /7/g, '⁷'), /8/g, '⁸'), /9/g, '⁹')"}},
   "y": {"field": "p", "type": "quantitative", "scale": {"type": "log", "domain": [2.34e-6, 2692], "nice": false, "reverse": true}, "axis": {"orient": "left", "values": [1e-4, 1e-2, 1, 100], "title": null, "labels": false}},
   "color": {"field": "s", "type": "nominal", "title": null, "scale": {"domain": ["Pre-Flare", "Flare Peak (Day 60)", "300 Earth-day Mean"], "range": ["#DAA520", "#B22222", "#4169E1"]}},
   "strokeDash": {"field": "s", "type": "nominal", "title": null, "scale": {"domain": ["Pre-Flare", "Flare Peak (Day 60)", "300 Earth-day Mean"], "range": [[1, 0], [1, 0], [28, 10]]}},
   "order": {"field": "p", "type": "quantitative"}}},
 {"data": {"values": [{"t": "(f)"}]}, "mark": {"type": "text", "align": "left", "baseline": "middle", "font": "DejaVu Sans", "fontSize": 19}, "encoding": {"x": {"datum": 8.1e-12}, "y": {"datum": 562}, "text": {"field": "t"}}}
]},
{"width": 270, "height": 221, "layer": [
 {"data": {"name": "g"}, "mark": {"type": "line", "strokeWidth": 5, "clip": true, "strokeCap": "butt", "strokeJoin": "round", "interpolate": "catmull-rom"},
  "encoding": {
   "x": {"field": "v", "type": "quantitative", "scale": {"type": "log", "domain": [9.1e-23, 7.94e-7], "nice": false}, "axis": {"values": [1e-22, 1e-18, 1e-14, 1e-10], "title": null, "labelExpr": "'10' + replace(replace(replace(replace(replace(replace(replace(replace(replace(replace(replace('' + round(log(datum.value) / LN10), /-/g, '⁻'), /0/g, '⁰'), /1/g, '¹'), /2/g, '²'), /3/g, '³'), /4/g, '⁴'), /5/g, '⁵'), /6/g, '⁶'), /7/g, '⁷'), /8/g, '⁸'), /9/g, '⁹')"}},
   "y": {"field": "p", "type": "quantitative", "scale": {"type": "log", "domain": [2.34e-6, 2692], "nice": false, "reverse": true}, "axis": {"orient": "left", "values": [1e-4, 1e-2, 1, 100], "title": null, "labels": false}},
   "color": {"field": "s", "type": "nominal", "title": null, "scale": {"domain": ["Pre-Flare", "Flare Peak (Day 60)", "300 Earth-day Mean"], "range": ["#DAA520", "#B22222", "#4169E1"]}},
   "strokeDash": {"field": "s", "type": "nominal", "title": null, "scale": {"domain": ["Pre-Flare", "Flare Peak (Day 60)", "300 Earth-day Mean"], "range": [[1, 0], [1, 0], [28, 10]]}},
   "order": {"field": "p", "type": "quantitative"}}},
 {"data": {"values": [{"t": "(g)"}]}, "mark": {"type": "text", "align": "left", "baseline": "middle", "font": "DejaVu Sans", "fontSize": 19}, "encoding": {"x": {"datum": 3.5e-22}, "y": {"datum": 562}, "text": {"field": "t"}}}
]},
{"width": 270, "height": 221, "resolve": {"scale": {"y": "independent"}}, "layer": [
 {"layer": [
  {"data": {"name": "h"}, "mark": {"type": "line", "strokeWidth": 5, "clip": true, "strokeCap": "butt", "strokeJoin": "round", "interpolate": "catmull-rom"},
   "encoding": {
    "x": {"field": "v", "type": "quantitative", "scale": {"type": "log", "domain": [6.46e-11, 0.102], "nice": false}, "axis": {"values": [1e-8, 1e-5, 1e-2], "title": null, "labelExpr": "'10' + replace(replace(replace(replace(replace(replace(replace(replace(replace(replace(replace('' + round(log(datum.value) / LN10), /-/g, '⁻'), /0/g, '⁰'), /1/g, '¹'), /2/g, '²'), /3/g, '³'), /4/g, '⁴'), /5/g, '⁵'), /6/g, '⁶'), /7/g, '⁷'), /8/g, '⁸'), /9/g, '⁹')"}},
    "y": {"field": "p", "type": "quantitative", "scale": {"type": "log", "domain": [2.34e-6, 2692], "nice": false, "reverse": true}, "axis": {"orient": "left", "values": [1e-4, 1e-2, 1, 100], "title": null, "labels": false}},
    "color": {"field": "s", "type": "nominal", "title": null, "scale": {"domain": ["Pre-Flare", "Flare Peak (Day 60)", "300 Earth-day Mean"], "range": ["#DAA520", "#B22222", "#4169E1"]}},
    "strokeDash": {"field": "s", "type": "nominal", "title": null, "scale": {"domain": ["Pre-Flare", "Flare Peak (Day 60)", "300 Earth-day Mean"], "range": [[1, 0], [1, 0], [28, 10]]}},
    "order": {"field": "p", "type": "quantitative"}}},
  {"data": {"values": [{"t": "(h)"}]}, "mark": {"type": "text", "align": "left", "baseline": "middle", "font": "DejaVu Sans", "fontSize": 19}, "encoding": {"x": {"datum": 1.4e-10}, "y": {"datum": 562}, "text": {"field": "t"}}}
 ]},
 {"data": {"values": [{"alt": 0}, {"alt": 150}]}, "mark": {"type": "point", "opacity": 0}, "encoding": {"y": {"field": "alt", "type": "quantitative", "scale": {"domain": [-7.3, 167.6], "nice": false, "zero": false}, "axis": {"orient": "right", "values": [0, 50, 100, 150], "title": "Altitude (km)", "titlePadding": 14}}}}
]}
]
},
{
"title": {"text": "Mixing Ratios", "orient": "bottom", "offset": 6, "fontSize": 28, "dx": 35},
"vconcat": [
{
"title": {"text": "K-star planet – P = 91.65 Earth-days", "offset": 21, "dx": 75, "dy": 13},
"bounds": "flush", "spacing": 13,
"hconcat": [
{"width": 270, "height": 221, "layer": [
 {"data": {"name": "i"}, "mark": {"type": "line", "strokeWidth": 5, "clip": true, "strokeCap": "butt", "strokeJoin": "round", "interpolate": "catmull-rom"},
  "encoding": {
   "x": {"field": "v", "type": "quantitative", "scale": {"type": "log", "domain": [9.55e-14, 3.89e-5], "nice": false}, "axis": {"values": [1e-13, 1e-11, 1e-9, 1e-7, 1e-5], "title": "O₃", "titleFontSize": 32, "titlePadding": 23, "labelExpr": "'10' + replace(replace(replace(replace(replace(replace(replace(replace(replace(replace(replace('' + round(log(datum.value) / LN10), /-/g, '⁻'), /0/g, '⁰'), /1/g, '¹'), /2/g, '²'), /3/g, '³'), /4/g, '⁴'), /5/g, '⁵'), /6/g, '⁶'), /7/g, '⁷'), /8/g, '⁸'), /9/g, '⁹')"}},
   "y": {"field": "p", "type": "quantitative", "scale": {"type": "log", "domain": [2.34e-6, 2692], "nice": false, "reverse": true}, "axis": {"orient": "left", "values": [1e-4, 1e-2, 1, 100], "title": "Pressure (hPa)", "titleOpacity": 0, "titlePadding": 33, "labelExpr": "'10' + replace(replace(replace(replace(replace(replace(replace(replace(replace(replace(replace('' + round(log(datum.value) / LN10), /-/g, '⁻'), /0/g, '⁰'), /1/g, '¹'), /2/g, '²'), /3/g, '³'), /4/g, '⁴'), /5/g, '⁵'), /6/g, '⁶'), /7/g, '⁷'), /8/g, '⁸'), /9/g, '⁹')"}},
   "color": {"field": "s", "type": "nominal", "title": null, "scale": {"domain": ["Pre-Flare", "Flare Peak (Day 60)", "300 Earth-day Mean"], "range": ["#DAA520", "#B22222", "#4169E1"]}},
   "strokeDash": {"field": "s", "type": "nominal", "title": null, "scale": {"domain": ["Pre-Flare", "Flare Peak (Day 60)", "300 Earth-day Mean"], "range": [[1, 0], [1, 0], [28, 10]]}},
   "order": {"field": "p", "type": "quantitative"}}},
 {"data": {"values": [{"t": "(i)"}]}, "mark": {"type": "text", "align": "left", "baseline": "middle", "font": "DejaVu Sans", "fontSize": 19}, "encoding": {"x": {"datum": 2.1e-13}, "y": {"datum": 562}, "text": {"field": "t"}}}
]},
{"width": 270, "height": 221, "layer": [
 {"data": {"name": "j"}, "mark": {"type": "line", "strokeWidth": 5, "clip": true, "strokeCap": "butt", "strokeJoin": "round", "interpolate": "catmull-rom"},
  "encoding": {
   "x": {"field": "v", "type": "quantitative", "scale": {"type": "log", "domain": [4.47e-12, 5.37e-5], "nice": false}, "axis": {"values": [1e-10, 1e-8, 1e-6], "title": "N₂O", "titleFontSize": 32, "titlePadding": 23, "labelExpr": "'10' + replace(replace(replace(replace(replace(replace(replace(replace(replace(replace(replace('' + round(log(datum.value) / LN10), /-/g, '⁻'), /0/g, '⁰'), /1/g, '¹'), /2/g, '²'), /3/g, '³'), /4/g, '⁴'), /5/g, '⁵'), /6/g, '⁶'), /7/g, '⁷'), /8/g, '⁸'), /9/g, '⁹')"}},
   "y": {"field": "p", "type": "quantitative", "scale": {"type": "log", "domain": [2.34e-6, 2692], "nice": false, "reverse": true}, "axis": {"orient": "left", "values": [1e-4, 1e-2, 1, 100], "title": null, "labels": false}},
   "color": {"field": "s", "type": "nominal", "title": null, "scale": {"domain": ["Pre-Flare", "Flare Peak (Day 60)", "300 Earth-day Mean"], "range": ["#DAA520", "#B22222", "#4169E1"]}},
   "strokeDash": {"field": "s", "type": "nominal", "title": null, "scale": {"domain": ["Pre-Flare", "Flare Peak (Day 60)", "300 Earth-day Mean"], "range": [[1, 0], [1, 0], [28, 10]]}},
   "order": {"field": "p", "type": "quantitative"}}},
 {"data": {"values": [{"t": "(j)"}]}, "mark": {"type": "text", "align": "left", "baseline": "middle", "font": "DejaVu Sans", "fontSize": 19}, "encoding": {"x": {"datum": 8.1e-12}, "y": {"datum": 562}, "text": {"field": "t"}}}
]},
{"width": 270, "height": 221, "layer": [
 {"data": {"name": "k"}, "mark": {"type": "line", "strokeWidth": 5, "clip": true, "strokeCap": "butt", "strokeJoin": "round", "interpolate": "catmull-rom"},
  "encoding": {
   "x": {"field": "v", "type": "quantitative", "scale": {"type": "log", "domain": [9.1e-23, 7.94e-7], "nice": false}, "axis": {"values": [1e-22, 1e-18, 1e-14, 1e-10], "title": "HNO₃", "titleFontSize": 32, "titlePadding": 23, "labelExpr": "'10' + replace(replace(replace(replace(replace(replace(replace(replace(replace(replace(replace('' + round(log(datum.value) / LN10), /-/g, '⁻'), /0/g, '⁰'), /1/g, '¹'), /2/g, '²'), /3/g, '³'), /4/g, '⁴'), /5/g, '⁵'), /6/g, '⁶'), /7/g, '⁷'), /8/g, '⁸'), /9/g, '⁹')"}},
   "y": {"field": "p", "type": "quantitative", "scale": {"type": "log", "domain": [2.34e-6, 2692], "nice": false, "reverse": true}, "axis": {"orient": "left", "values": [1e-4, 1e-2, 1, 100], "title": null, "labels": false}},
   "color": {"field": "s", "type": "nominal", "title": null, "scale": {"domain": ["Pre-Flare", "Flare Peak (Day 60)", "300 Earth-day Mean"], "range": ["#DAA520", "#B22222", "#4169E1"]}},
   "strokeDash": {"field": "s", "type": "nominal", "title": null, "scale": {"domain": ["Pre-Flare", "Flare Peak (Day 60)", "300 Earth-day Mean"], "range": [[1, 0], [1, 0], [28, 10]]}},
   "order": {"field": "p", "type": "quantitative"}}},
 {"data": {"values": [{"t": "(k)"}]}, "mark": {"type": "text", "align": "left", "baseline": "middle", "font": "DejaVu Sans", "fontSize": 19}, "encoding": {"x": {"datum": 3.5e-22}, "y": {"datum": 562}, "text": {"field": "t"}}}
]},
{"width": 270, "height": 221, "resolve": {"scale": {"y": "independent"}}, "layer": [
 {"layer": [
  {"data": {"name": "l"}, "mark": {"type": "line", "strokeWidth": 5, "clip": true, "strokeCap": "butt", "strokeJoin": "round", "interpolate": "catmull-rom"},
   "encoding": {
    "x": {"field": "v", "type": "quantitative", "scale": {"type": "log", "domain": [6.46e-11, 0.102], "nice": false}, "axis": {"values": [1e-8, 1e-5, 1e-2], "title": "H₂Ov", "titleFontSize": 32, "titlePadding": 23, "labelExpr": "'10' + replace(replace(replace(replace(replace(replace(replace(replace(replace(replace(replace('' + round(log(datum.value) / LN10), /-/g, '⁻'), /0/g, '⁰'), /1/g, '¹'), /2/g, '²'), /3/g, '³'), /4/g, '⁴'), /5/g, '⁵'), /6/g, '⁶'), /7/g, '⁷'), /8/g, '⁸'), /9/g, '⁹')"}},
    "y": {"field": "p", "type": "quantitative", "scale": {"type": "log", "domain": [2.34e-6, 2692], "nice": false, "reverse": true}, "axis": {"orient": "left", "values": [1e-4, 1e-2, 1, 100], "title": null, "labels": false}},
    "color": {"field": "s", "type": "nominal", "title": null, "scale": {"domain": ["Pre-Flare", "Flare Peak (Day 60)", "300 Earth-day Mean"], "range": ["#DAA520", "#B22222", "#4169E1"]}},
    "strokeDash": {"field": "s", "type": "nominal", "title": null, "scale": {"domain": ["Pre-Flare", "Flare Peak (Day 60)", "300 Earth-day Mean"], "range": [[1, 0], [1, 0], [28, 10]]}},
    "order": {"field": "p", "type": "quantitative"}}},
  {"data": {"values": [{"t": "(l)"}]}, "mark": {"type": "text", "align": "left", "baseline": "middle", "font": "DejaVu Sans", "fontSize": 19}, "encoding": {"x": {"datum": 1.4e-10}, "y": {"datum": 562}, "text": {"field": "t"}}}
 ]},
 {"data": {"values": [{"alt": 0}, {"alt": 150}]}, "mark": {"type": "point", "opacity": 0}, "encoding": {"y": {"field": "alt", "type": "quantitative", "scale": {"domain": [-7.3, 167.6], "nice": false, "zero": false}, "axis": {"orient": "right", "values": [0, 50, 100, 150], "title": null}}}}
]}
]
}
]
}
]
}
